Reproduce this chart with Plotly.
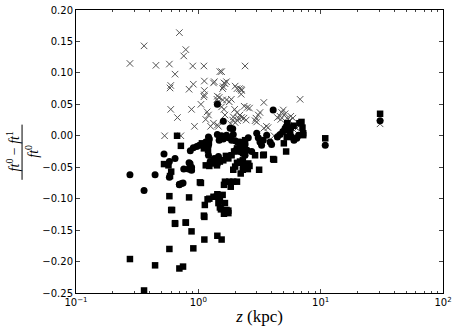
import plotly.graph_objects as go

# 交叉点 (x markers)
z_cross = [0.276, 0.36, 0.45, 0.58, 0.70, 0.76, 0.79, 0.645, 0.595, 0.587, 0.84, 0.91, 0.90,
           1.11, 1.12, 1.33, 1.12, 1.12, 1.11, 1.50, 1.55, 1.65, 1.70, 1.43, 1.48, 1.58, 2.0,
           2.07, 2.24, 2.24, 2.41, 0.595, 0.675, 0.88, 1.05, 0.93, 0.53, 0.72, 1.18, 1.21, 1.15,
           1.42, 1.46, 1.58, 1.70, 1.55, 1.62, 1.79, 1.86, 1.65, 1.46, 1.98, 2.07, 2.13, 2.19,
           2.26, 2.36, 2.46, 1.91, 1.84, 2.37, 2.51, 1.33, 1.26, 1.35, 1.62, 1.60, 2.17, 2.26,
           2.62, 3.43, 6.79, 1.93, 3.19, 3.09, 2.96, 2.91, 3.0, 3.60, 3.71, 3.43, 4.95, 4.80,
           5.12, 4.66, 5.33, 5.70, 5.93, 5.55, 5.22, 4.72, 4.43, 6.18, 6.38, 6.0, 4.16, 30.6,
           1.43, 2.0, 2.09]
dft_cross = [0.115, 0.143, 0.112, 0.114, 0.164, 0.127, 0.137, 0.098, 0.080, 0.076, 0.074, 0.082,
             0.111, 0.111, 0.087, 0.084, 0.072, 0.065, 0.062, 0.102, 0.102, 0.083, 0.086, 0.063,
             0.061, 0.075, 0.079, 0.075, 0.074, 0.066, 0.111, 0.042, 0.029, 0.042, 0.050, 0.015,
             0.0, 0.0, 0.038, 0.033, 0.026, 0.058, 0.054, 0.057, 0.057, 0.046, 0.042, 0.054,
             0.058, 0.033, 0.015, 0.042, 0.037, 0.028, 0.033, 0.029, 0.028, 0.025, 0.025, 0.019,
             0.047, 0.045, 0.020, 0.015, 0.086, 0.084, 0.078, 0.075, 0.072, 0.044, 0.053, 0.058,
             0.030, 0.037, 0.033, 0.028, 0.024, 0.022, 0.015, 0.013, 0.012, 0.041, 0.037, 0.035,
             0.031, 0.028, 0.031, 0.028, 0.024, 0.022, 0.026, 0.029, 0.014, 0.012, 0.010, 0.0,
             0.019, 0.017, 0.021, 0.024]

# 圆点 (circles)
z_circle = [0.276, 0.36, 0.443, 0.524, 0.645, 0.58, 0.58, 0.70, 0.75, 0.84, 0.88, 0.86, 0.91,
            0.97, 1.02, 1.08, 1.15, 1.21, 1.21, 1.23, 1.43, 1.48, 1.50, 1.55, 1.60, 1.70, 1.76,
            1.82, 1.91, 1.93, 1.87, 2.0, 2.09, 2.19, 2.22, 2.33, 2.41, 2.56, 3.0, 3.09, 3.19,
            3.29, 3.39, 3.62, 3.86, 3.97, 1.60, 1.43, 4.09, 4.43, 4.66, 4.91, 5.12, 5.28, 5.62,
            5.80, 6.05, 6.38, 6.6, 1.21, 1.25, 1.35, 1.46, 1.53, 1.43, 0.855, 0.83, 0.88, 0.76,
            0.73, 0.70, 2.0, 2.17, 2.31, 2.41, 2.51, 2.73, 30.6, 10.9]
dft_circle = [-0.062, -0.087, -0.062, -0.029, -0.036, -0.041, -0.066, -0.077, -0.075, -0.043,
              -0.050, -0.024, -0.019, -0.017, -0.015, -0.015, -0.010, -0.002, -0.015, -0.005,
              0.002, -0.007, -0.003, 0.0, -0.005, 0.001, -0.003, 0.012, 0.011, 0.002, -0.007,
              -0.008, -0.010, -0.010, -0.016, -0.020, -0.014, -0.003, 0.004, -0.003, -0.010,
              -0.015, -0.007, 0.001, -0.010, -0.014, 0.023, 0.050, 0.041, -0.002, 0.002, 0.007,
              0.012, 0.014, 0.004, -0.002, -0.007, -0.004, 0.001, -0.031, -0.041, -0.036, -0.033,
              -0.039, -0.045, -0.044, -0.053, -0.055, -0.053, -0.076, -0.078, -0.024, -0.025,
              -0.028, -0.031, -0.023, -0.025, 0.024, -0.015]

# 方块 (squares)
z_square = [0.276, 0.36, 0.443, 0.524, 0.57, 0.58, 0.58, 0.60, 0.60, 0.587, 0.645, 0.70, 0.75,
            0.79, 0.84, 0.88, 0.91, 0.88, 1.05, 1.12, 1.12, 1.11, 1.19, 1.13, 1.33, 1.42, 1.50,
            1.58, 1.46, 1.53, 1.65, 1.62, 1.76, 1.43, 1.55, 1.65, 1.62, 1.79, 1.84, 1.93, 2.07,
            1.93, 2.0, 2.07, 2.22, 2.31, 2.41, 2.31, 2.56, 3.14, 2.91, 3.39, 4.16, 5.22, 0.67,
            0.72, 1.15, 1.23, 1.33, 1.42, 1.50, 1.60, 1.68, 1.76, 1.87, 1.96, 2.07, 2.19, 2.33,
            2.41, 2.19, 2.33, 2.54, 2.62, 3.43, 4.09, 5.0, 5.28, 5.22, 5.70, 6.0, 6.70, 7.1, 7.2,
            7.2, 1.07, 1.11, 1.15, 1.20, 1.22, 1.03, 0.61, 0.645, 0.79, 1.23, 1.43, 1.48, 1.50,
            1.70, 1.76, 6.97, 5.33, 5.3, 30.6, 10.9]
dft_square = [-0.196, -0.246, -0.206, -0.045, -0.047, -0.096, -0.180, -0.118, -0.057, -0.064,
              -0.140, -0.211, -0.208, -0.138, -0.098, -0.152, -0.179, -0.053, -0.075, -0.165,
              -0.129, -0.127, -0.101, -0.110, -0.097, -0.096, -0.097, -0.094, -0.107, -0.117,
              -0.107, -0.124, -0.119, -0.159, -0.165, -0.073, -0.078, -0.073, -0.081, -0.073,
              -0.073, -0.054, -0.049, -0.043, -0.060, -0.054, -0.047, -0.039, -0.044, -0.054,
              -0.031, -0.031, -0.038, -0.025, 0.000, -0.016, -0.047, -0.048, -0.044, -0.047,
              -0.041, -0.039, -0.032, -0.036, -0.031, -0.025, -0.020, -0.015, -0.012, -0.007,
              -0.041, -0.047, -0.053, -0.048, -0.030, -0.037, -0.012, -0.002, 0.009, 0.013, 0.016,
              0.020, 0.013, 0.001, 0.004, -0.012, -0.020, -0.016, -0.023, -0.010, -0.074, -0.118,
              -0.139, -0.138, -0.100, -0.093, -0.104, -0.114, -0.118, -0.123, 0.022, 0.020, 0.014,
              0.035, -0.004]

# 刻度
x_tickvals = [0.1, 1, 10, 100]
x_ticktext = ['10<sup>−1</sup>', '10<sup>0</sup>', '10<sup>1</sup>', '10<sup>2</sup>']
x_minor = [0.2, 0.3, 0.4, 0.5, 0.6, 0.7, 0.8, 0.9, 2, 3, 4, 5, 6, 7, 8, 9,
           20, 30, 40, 50, 60, 70, 80, 90]

fig = go.Figure()
fig.add_trace(go.Scatter(x=z_cross, y=dft_cross, mode='markers',
                         marker=dict(symbol='x-thin-open', size=6.5, color='#555555',
                                     line=dict(width=1, color='#555555'))))
fig.add_trace(go.Scatter(x=z_circle, y=dft_circle, mode='markers',
                         marker=dict(symbol='circle', size=7, color='black', line=dict(width=0))))
fig.add_trace(go.Scatter(x=z_square, y=dft_square, mode='markers',
                         marker=dict(symbol='square', size=6.5, color='black', line=dict(width=0))))

tickfont = dict(family='DejaVu Sans', size=10, color='black')
fig.update_layout(
    width=458, height=335,
    margin=dict(l=76, r=15, t=10, b=42, autoexpand=False),
    plot_bgcolor='white', paper_bgcolor='white',
    showlegend=False,
    xaxis=dict(type='log', range=[-1, 2], tickvals=x_tickvals, ticktext=x_ticktext,
               showgrid=False, zeroline=False, ticks='inside', ticklen=4,
               mirror='ticks', showline=True, linecolor='black', linewidth=1,
               tickfont=tickfont, automargin=False,
               minor=dict(tickvals=x_minor, ticks='inside', ticklen=2, showgrid=False),
               title=dict(text='<i>z</i> (kpc)', standoff=3,
                          font=dict(family='Liberation Serif', size=17, color='black'))),
    yaxis=dict(range=[-0.25, 0.20], dtick=0.05, tickformat='.2f',
               showgrid=False, zeroline=False, ticks='inside', ticklen=4,
               mirror='ticks', showline=True, linecolor='black', linewidth=1,
               tickfont=tickfont, automargin=False),
)

# y 轴标签: 分数
serif = dict(family='Liberation Serif', size=14, color='black')
fig.add_annotation(text='<i>ft</i><sup>0</sup> − <i>ft</i><sup>1</sup>', textangle=-90,
                   xref='paper', yref='paper', x=-0.172, y=0.50, showarrow=False,
                   font=serif, xanchor='center', yanchor='middle')
fig.add_annotation(text='<i>ft</i><sup>0</sup>', textangle=-90,
                   xref='paper', yref='paper', x=-0.122, y=0.50, showarrow=False,
                   font=serif, xanchor='center', yanchor='middle')
fig.add_shape(type='line', xref='paper', yref='paper', x0=-0.147, x1=-0.147, y0=0.40, y1=0.595,
              line=dict(color='black', width=1))

fig.write_html('out.html', config={'displayModeBar': False},
               post_script="document.body.style.margin='0';")
